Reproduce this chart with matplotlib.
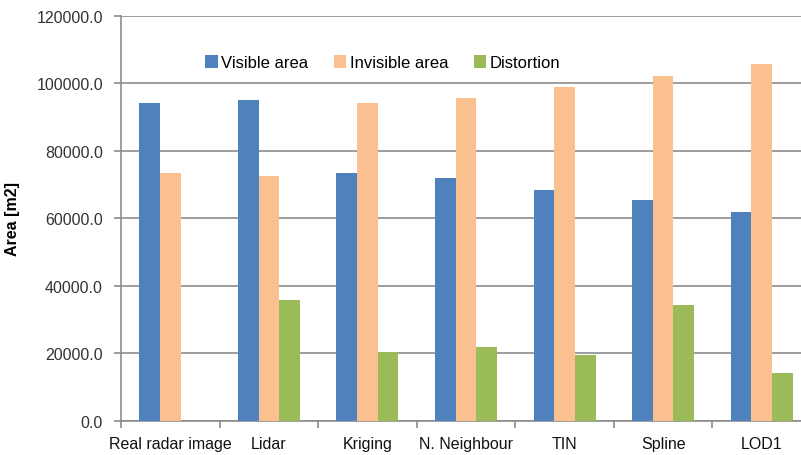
import matplotlib.pyplot as plt
import numpy as np

categories = ["Real radar image", "Lidar", "Kriging", "N. Neighbour", "TIN", "Spline", "LOD1"]
visible = [94000, 95000, 73500, 72000, 68400, 65300, 61700]
invisible = [73500, 72500, 94000, 95500, 99000, 102100, 105700]
distortion = [0, 35700, 20400, 21700, 19600, 34400, 14100]
series_names = ["Visible area", "Invisible area", "Distortion"]

colors = ["#4F81BD", "#FAC090", "#9BBB59"]
plt.rcParams['font.family'] = ['Liberation Sans', 'DejaVu Sans']

fig = plt.figure(figsize=(8.01, 4.56), dpi=100)
# plot area runs past the right edge like the original crop
ax = fig.add_axes([121/801, 1-421.7/456, 690/801, 405/456])

x = np.arange(len(categories))
w = 0.21
for i, (vals, name) in enumerate(zip([visible, invisible, distortion], series_names)):
    ax.bar(x + (i-1)*w, vals, w, color=colors[i], label=name, zorder=3)

ax.set_xlim(-0.5, len(categories)-0.5)
ax.set_ylim(0, 120000)
ax.set_yticks(np.arange(0, 120001, 20000))
ax.set_yticklabels([f"{v:.1f}" for v in np.arange(0, 120001, 20000)], fontsize=11.5, color="#333333")
ax.yaxis.grid(True, color="#8c8c8c", linewidth=1.2, zorder=0)

ax.set_xticks(x)
ax.set_xticklabels(categories, fontsize=11.5, color="#111111")
ax.set_xticks(np.arange(-0.5, len(categories), 1), minor=True)
ax.tick_params(axis='x', which='major', length=0, pad=11)
ax.tick_params(axis='x', which='minor', length=5, color="#8c8c8c", width=1.2)
ax.tick_params(axis='y', length=5, color="#8c8c8c", width=1.2, pad=8)

for s in ["top", "right"]:
    ax.spines[s].set_visible(False)
for s in ["left", "bottom"]:
    ax.spines[s].set_color("#8c8c8c")
    ax.spines[s].set_linewidth(1.2)

ax.set_ylabel("Area [m2]", fontsize=11.5, fontweight="bold", labelpad=12)

ax.legend(loc="upper left", bbox_to_anchor=(0.10, 0.94), ncol=3, frameon=False,
          fontsize=12, handlelength=0.75, handleheight=0.8, handletextpad=0.2,
          columnspacing=1.55)

fig.savefig("out.png", dpi=100)
